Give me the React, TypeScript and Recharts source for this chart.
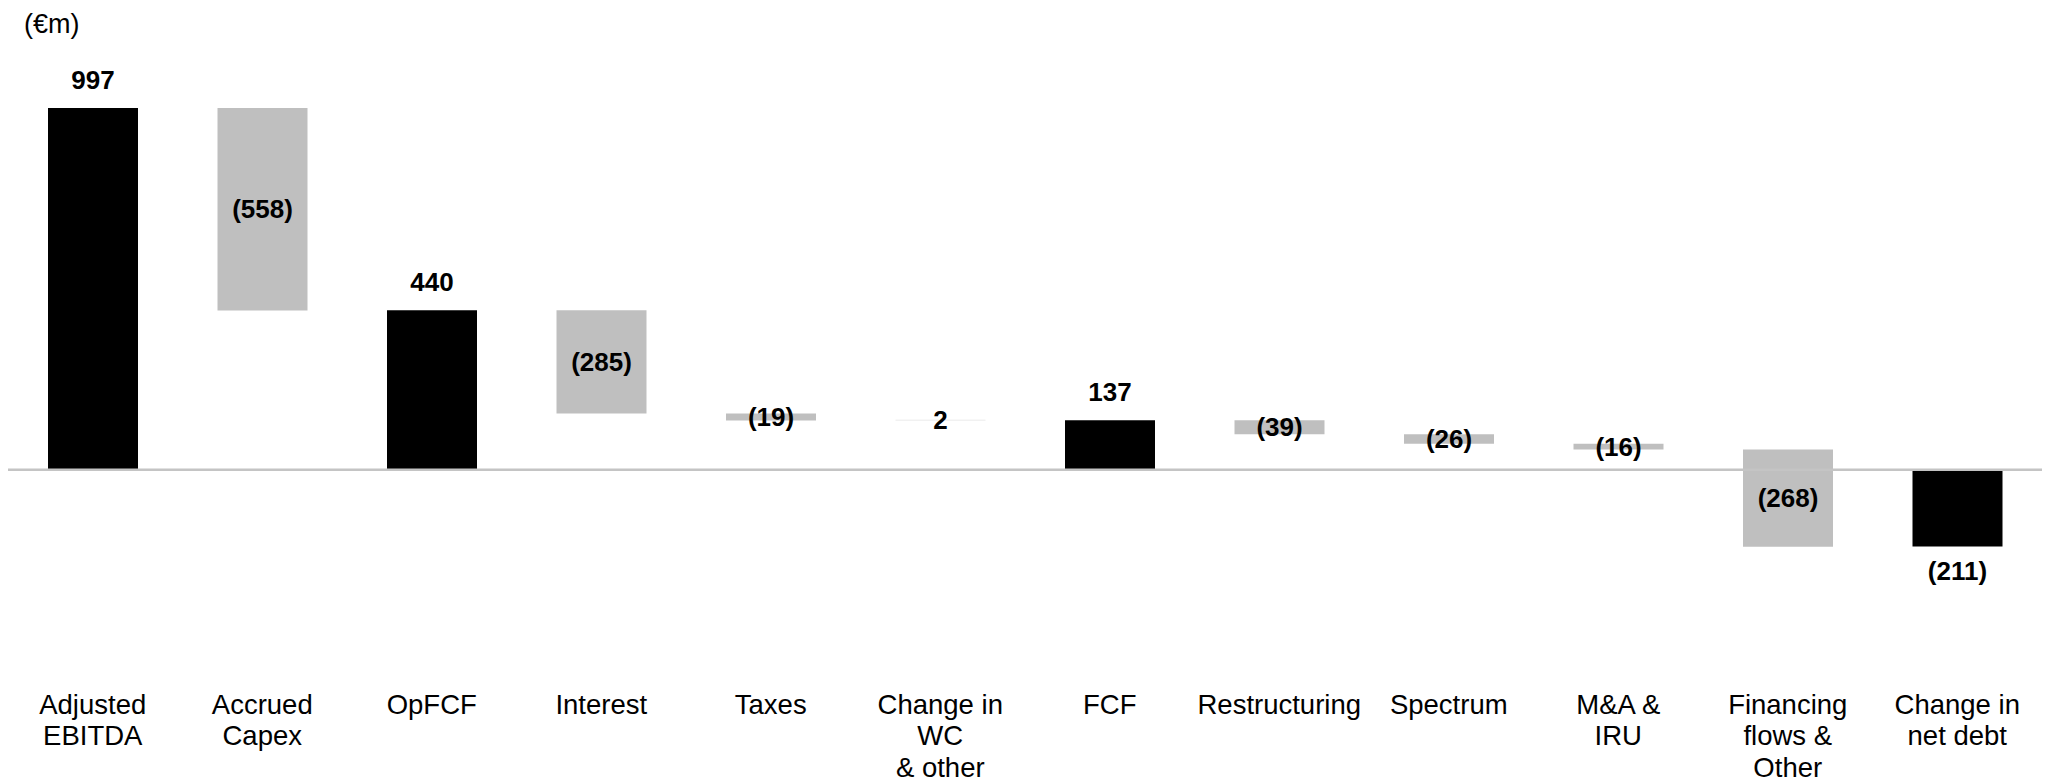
import React from 'react';
import { BarChart, Bar, XAxis, YAxis, Cell, LabelList, ReferenceLine } from 'recharts';

const FONT = '"Liberation Sans", Arial, sans-serif';

// category labels, one entry per line
const categories: string[][] = [
  ['Adjusted', 'EBITDA'],
  ['Accrued', 'Capex'],
  ['OpFCF'],
  ['Interest'],
  ['Taxes'],
  ['Change in', 'WC', '& other'],
  ['FCF'],
  ['Restructuring'],
  ['Spectrum'],
  ['M&A &', 'IRU'],
  ['Financing', 'flows &', 'Other'],
  ['Change in', 'net debt'],
];

// €m
const values = [997, -558, 440, -285, -19, 2, 137, -39, -26, -16, -268, -211];
const isTotal = [true, false, true, false, false, false, true, false, false, false, false, true];

const colors = {
  total: '#000000',
  down: '#bfbfbf',
  up: '#e4e4e4',
};

const fmt = (v: number) => (v < 0 ? `(${Math.abs(v)})` : `${v}`);

let running = 0;
const data = categories.map((lines, i) => {
  const v = values[i];
  const start = isTotal[i] ? 0 : running;
  const end = start + v;
  running = end;
  return {
    name: lines.join(' '),
    range: [Math.min(start, end), Math.max(start, end)],
    value: v,
    total: isTotal[i],
  };
});

const CategoryTick = (props: any) => {
  const { x, y, payload } = props;
  const lines = categories[payload.index] || [];
  return (
    <g transform={`translate(${x},${y})`}>
      {lines.map((line, i) => (
        <text
          key={i}
          x={0}
          y={89 + i * 31.5}
          textAnchor="middle"
          dominantBaseline="central"
          fontFamily={FONT}
          fontSize={27.5}
          fill="#000"
        >
          {line}
        </text>
      ))}
    </g>
  );
};

const ValueLabel = (props: any) => {
  const { x, y, width, height, index } = props;
  const row = data[index];
  if (!row) return null;
  const top = Math.min(y, y + height);
  const bottom = Math.max(y, y + height);
  let ty = (top + bottom) / 2;
  if (row.total) ty = row.value >= 0 ? top - 28 : bottom + 25;
  return (
    <text
      x={x + width / 2}
      y={ty}
      textAnchor="middle"
      dominantBaseline="central"
      fontFamily={FONT}
      fontSize={26}
      fontWeight="bold"
      fill="#000"
    >
      {fmt(row.value)}
    </text>
  );
};

const App: React.FC = () => {
  return (
    <div style={{ position: 'relative', width: 2037, height: 775 }}>
      <span
        style={{
          position: 'absolute',
          left: 16,
          top: 2,
          fontFamily: FONT,
          fontSize: 27,
          lineHeight: '28px',
          color: '#000',
        }}
      >
        (€m)
      </span>
      <BarChart
        width={2037}
        height={775}
        data={data}
        margin={{ top: 99, right: 3, bottom: 18, left: 0 }}
      >
        <XAxis
          dataKey="name"
          axisLine={false}
          tickLine={false}
          tickSize={0}
          tickMargin={0}
          interval={0}
          height={150}
          tick={<CategoryTick />}
        />
        <YAxis hide type="number" domain={[-400, 1000]} allowDataOverflow />
        <Bar dataKey="range" barSize={90} isAnimationActive={false}>
          {data.map((d, i) => (
            <Cell
              key={i}
              fill={d.total ? colors.total : d.value < 0 ? colors.down : colors.up}
            />
          ))}
          <LabelList dataKey="value" content={<ValueLabel />} />
        </Bar>
        <ReferenceLine y={0} stroke="#c4c4c4" strokeWidth={2.5} />
      </BarChart>
    </div>
  );
};

export default App;
